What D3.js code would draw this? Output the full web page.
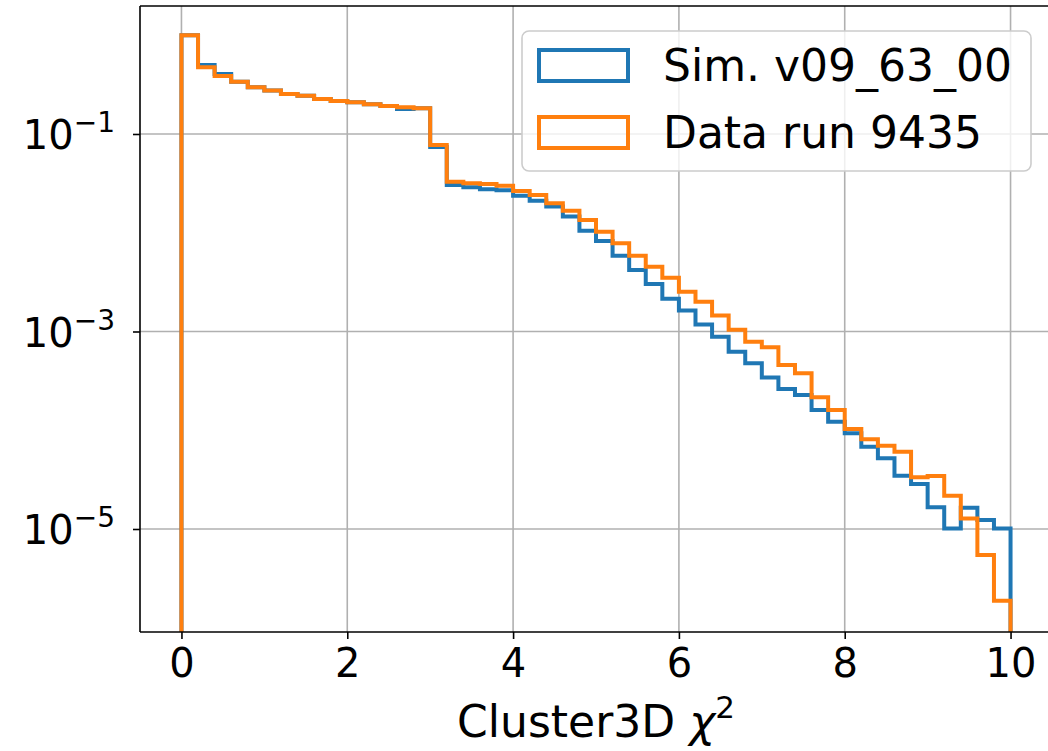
<!DOCTYPE html>
<html>
<head>
<meta charset="utf-8">
<script src="https://cdn.jsdelivr.net/npm/d3@7"></script>
<style>
  html, body { margin: 0; padding: 0; background: #fff; }
  svg { display: block; font-family: "DejaVu Sans", sans-serif; }
</style>
</head>
<body>
<svg id="chart" width="1048" height="751"></svg>
<script>
// ---- data ----
const binEdges = d3.range(0, 51).map(i => +(i * 0.2).toFixed(1)); // 0..10 step 0.2
const simValues = [
  1.0, 0.50, 0.405, 0.339, 0.297, 0.275, 0.254, 0.244, 0.226, 0.216,
  0.209, 0.200, 0.192, 0.179, 0.182, 0.074, 0.0305, 0.0288, 0.0275, 0.027,
  0.0237, 0.0211, 0.0184, 0.0146, 0.0105, 0.00824, 0.00586, 0.0042, 0.00303, 0.00215,
  0.00163, 0.00118, 0.000885, 0.000624, 0.000476, 0.000343, 0.000262, 0.000228, 0.00016, 0.000122,
  9.3e-5, 6.8e-5, 5.2e-5, 3.47e-5, 2.86e-5, 1.66e-5, 1.01e-5, 1.64e-5, 1.23e-5, 1.01e-5
];
const dataValues = [
  1.0, 0.473, 0.386, 0.339, 0.297, 0.275, 0.254, 0.244, 0.226, 0.216,
  0.209, 0.200, 0.192, 0.186, 0.182, 0.0774, 0.0329, 0.0317, 0.0312, 0.0299,
  0.0265, 0.0241, 0.0199, 0.0167, 0.01345, 0.01026, 0.00782, 0.00586, 0.00453, 0.0035,
  0.00253, 0.0020, 0.00145, 0.00104, 0.000789, 0.000691, 0.000458, 0.000377, 0.000216, 0.00016,
  1.03e-4, 8.1e-5, 6.98e-5, 6.07e-5, 3.34e-5, 3.44e-5, 2.17e-5, 1.28e-5, 5.46e-6, 1.88e-6
];
const seriesNames = ["Sim. v09_63_00", "Data run 9435"];
const seriesColors = ["#1f77b4", "#ff7f0e"];
const xTicks = [0, 2, 4, 6, 8, 10];
const yTicks = [1e-1, 1e-3, 1e-5];
const yTickExps = ["\u22121", "\u22123", "\u22125"];
const xLabel = "Cluster3D ";

// ---- layout ----
const svg = d3.select("#chart");
const plot = { left: 140, top: 6, right: 1052, bottom: 632 };
const x = d3.scaleLinear().domain([-0.5, 10.5]).range([plot.left, plot.right]);
const y = d3.scaleLog().domain([Math.pow(10, -6.043), Math.pow(10, 0.296)]).range([plot.bottom, plot.top]);

svg.append("defs").append("clipPath").attr("id", "clip")
  .append("rect").attr("x", plot.left).attr("y", plot.top)
  .attr("width", plot.right - plot.left).attr("height", plot.bottom - plot.top);

// grid
const grid = svg.append("g");
grid.selectAll(".gx").data(xTicks).join("line")
  .attr("x1", d => x(d)).attr("x2", d => x(d))
  .attr("y1", plot.top).attr("y2", plot.bottom)
  .attr("stroke", "#b0b0b0").attr("stroke-width", 1.6);
grid.selectAll(".gy").data(yTicks).join("line")
  .attr("x1", plot.left).attr("x2", plot.right)
  .attr("y1", d => y(d)).attr("y2", d => y(d))
  .attr("stroke", "#b0b0b0").attr("stroke-width", 1.6);

// step outlines
function stepPoints(vals) {
  const floor = 1e-12;
  const pts = [[binEdges[0], floor]];
  vals.forEach((v, i) => {
    pts.push([binEdges[i], v]);
    pts.push([binEdges[i + 1], v]);
  });
  pts.push([binEdges[vals.length], floor]);
  return pts;
}
const line = d3.line().x(d => x(d[0])).y(d => Math.min(y(d[1]), plot.bottom + 20));
const marks = svg.append("g").attr("clip-path", "url(#clip)");
[simValues, dataValues].forEach((vals, k) => {
  marks.append("path").attr("d", line(stepPoints(vals)))
    .attr("fill", "none").attr("stroke", seriesColors[k])
    .attr("stroke-width", 4).attr("stroke-linejoin", "miter");
});

// spines
svg.append("line").attr("x1", plot.left).attr("x2", plot.left)
  .attr("y1", plot.top).attr("y2", plot.bottom).attr("stroke", "#000").attr("stroke-width", 1.6);
svg.append("line").attr("x1", plot.left).attr("x2", plot.right)
  .attr("y1", plot.bottom).attr("y2", plot.bottom).attr("stroke", "#000").attr("stroke-width", 1.6);
svg.append("line").attr("x1", plot.left).attr("x2", plot.right)
  .attr("y1", plot.top).attr("y2", plot.top).attr("stroke", "#000").attr("stroke-width", 1.6);

// x axis
const xAxis = d3.axisBottom(x).tickValues(xTicks).tickSize(7).tickPadding(10).tickFormat(d3.format("d"));
const gx = svg.append("g").attr("transform", `translate(0,${plot.bottom})`).call(xAxis);
gx.select(".domain").remove();
gx.selectAll(".tick line").attr("stroke", "#000").attr("stroke-width", 1.6);
gx.selectAll(".tick text").attr("font-size", 40).attr("fill", "#000")
  .attr("font-family", "DejaVu Sans");

// y axis
const yAxis = d3.axisLeft(y).tickValues(yTicks).tickSize(7).tickFormat(() => "");
const gy = svg.append("g").attr("transform", `translate(${plot.left},0)`).call(yAxis);
gy.select(".domain").remove();
gy.selectAll(".tick line").attr("stroke", "#000").attr("stroke-width", 1.6);
gy.selectAll(".tick").each(function(d, i) {
  const t = d3.select(this).append("text")
    .attr("x", -25).attr("y", 15)
    .attr("text-anchor", "end").attr("fill", "#000")
    .attr("font-family", "DejaVu Sans").attr("font-size", 40);
  t.append("tspan").text("10");
  t.append("tspan").attr("dy", -17).attr("font-size", 28).text(yTickExps[i]);
});

// x label
const xl = svg.append("text").attr("x", 596).attr("y", 737)
  .attr("text-anchor", "middle").attr("font-size", 44).attr("fill", "#000");
xl.append("tspan").text(xLabel);
xl.append("tspan").attr("font-style", "italic").text("\u03c7");
xl.append("tspan").attr("dy", -19).attr("font-size", 31).text("2");

// legend
const lg = svg.append("g");
lg.append("rect").attr("x", 522).attr("y", 31).attr("width", 509).attr("height", 140)
  .attr("rx", 7).attr("fill", "#fff").attr("fill-opacity", 0.8)
  .attr("stroke", "#cccccc").attr("stroke-width", 1.6);
seriesNames.forEach((name, k) => {
  const yy = 50 + k * 67;
  lg.append("rect").attr("x", 539).attr("y", yy).attr("width", 89).attr("height", 31)
    .attr("fill", "none").attr("stroke", seriesColors[k]).attr("stroke-width", 4);
  lg.append("text").attr("x", 663).attr("y", yy + 31).attr("font-size", 44)
    .attr("fill", "#000").text(name);
});
</script>
</body>
</html>
